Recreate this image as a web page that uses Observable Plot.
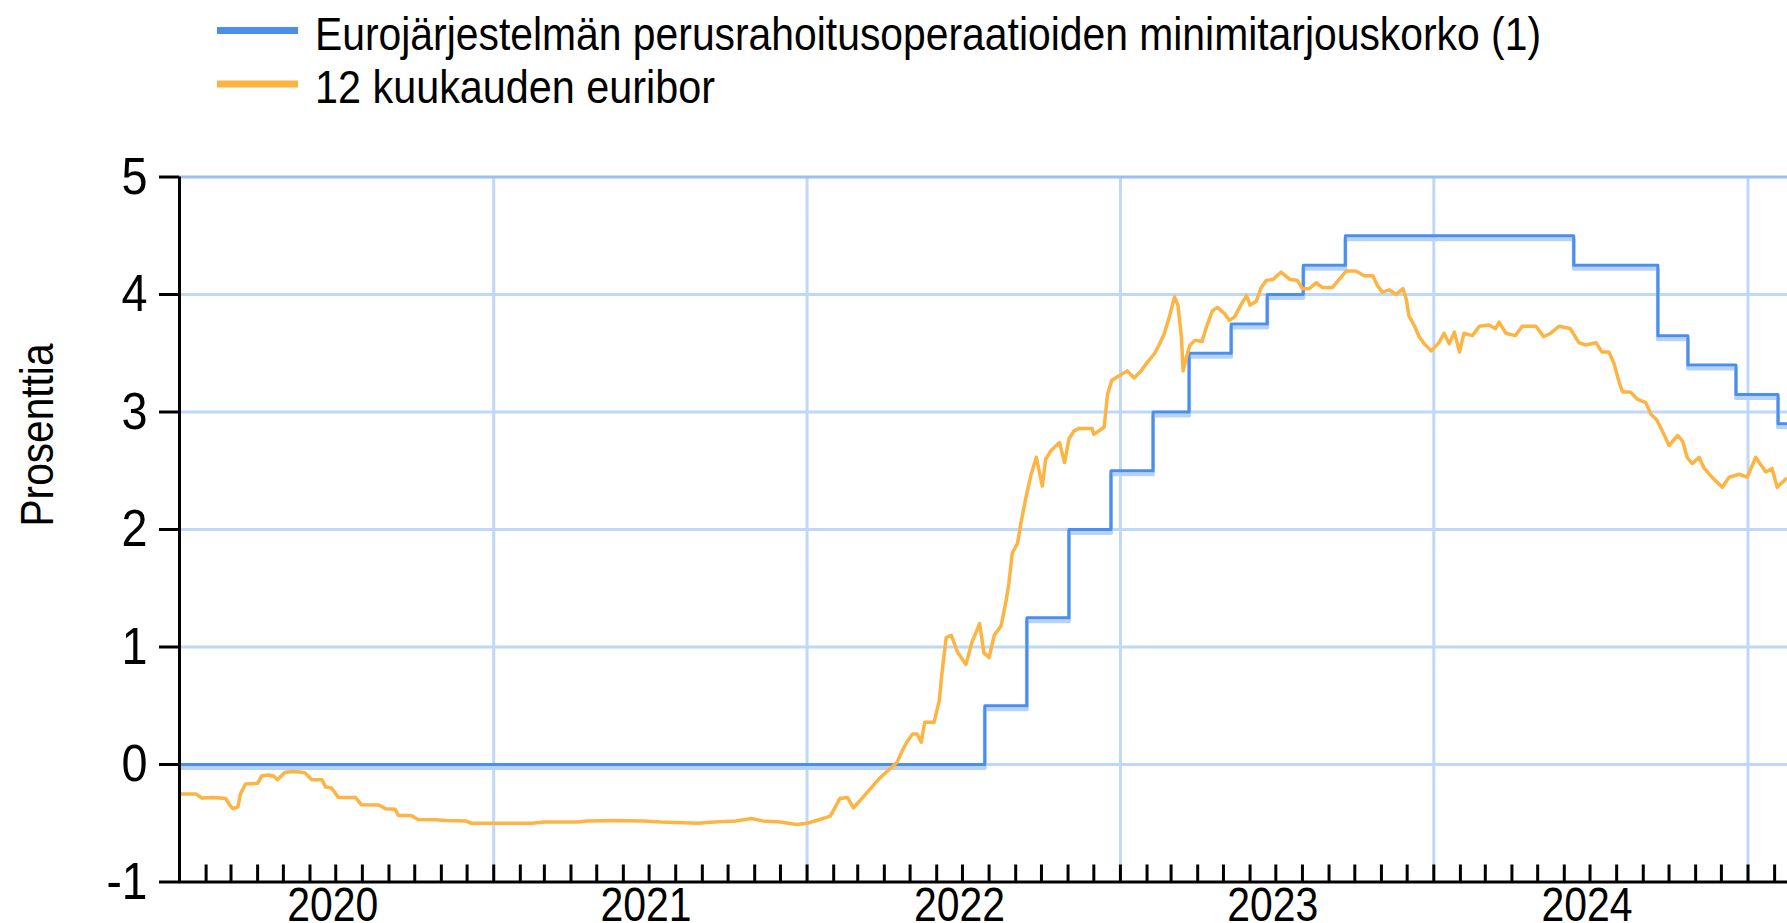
<!DOCTYPE html>
<html>
<head>
<meta charset="utf-8">
<script src="https://cdn.jsdelivr.net/npm/d3@7"></script>
<script src="https://cdn.jsdelivr.net/npm/@observablehq/plot@0.6"></script>
<style>
  body { margin: 0; background: #ffffff; }
  svg { display: block; }
</style>
</head>
<body>
<div id="legend"></div>
<div id="chart"></div>
<script>
// ---------- data ----------
const seriesNames = [
  "Eurojärjestelmän perusrahoitusoperaatioiden minimitarjouskorko (1)",
  "12 kuukauden euribor"
];
const yAxisLabel = "Prosenttia";
const yTicks = [-1, 0, 1, 2, 3, 4, 5];
const yearLabels = ["2020", "2021", "2022", "2023", "2024"];
const xDomain = ["2020-01-01", "2025-02-16"];

// ECB main refinancing operations rate (step series)
const mroDates = ["2020-01-01", "2022-07-27", "2022-09-14", "2022-11-02", "2022-12-21",
  "2023-02-08", "2023-03-22", "2023-05-10", "2023-06-21", "2023-08-02", "2023-09-20",
  "2024-06-12", "2024-09-18", "2024-10-23", "2024-12-18", "2025-02-05", "2025-02-16"];
const mroRates = [0.00, 0.50, 1.25, 2.00, 2.50, 3.00, 3.50, 3.75, 4.00, 4.25, 4.50,
  4.25, 3.65, 3.40, 3.15, 2.90, 2.90];

// 12-month Euribor
const euriborDates = [
  "2020-01-01","2020-01-20","2020-01-27","2020-02-10","2020-02-24","2020-02-28","2020-03-03","2020-03-09",
  "2020-03-12","2020-03-18","2020-04-01","2020-04-06","2020-04-14","2020-04-20","2020-04-24","2020-05-03",
  "2020-05-15","2020-05-26","2020-06-03","2020-06-15","2020-06-19","2020-06-26","2020-07-04","2020-07-24",
  "2020-07-31","2020-08-20","2020-08-28","2020-09-08","2020-09-12","2020-09-27","2020-10-05","2020-10-25",
  "2020-11-06","2020-11-29","2020-12-06","2020-12-29",
  "2021-01-15","2021-02-14","2021-03-01","2021-04-09","2021-04-20","2021-05-20","2021-06-25","2021-07-15",
  "2021-08-27","2021-09-15","2021-10-10","2021-10-28","2021-11-10","2021-12-01","2021-12-20",
  "2022-01-01","2022-01-15","2022-01-28","2022-02-03","2022-02-08","2022-02-17","2022-02-24","2022-03-07",
  "2022-03-14","2022-03-26","2022-04-07","2022-04-16","2022-04-22","2022-04-28","2022-05-04","2022-05-09",
  "2022-05-14","2022-05-18","2022-05-29","2022-06-04","2022-06-07","2022-06-12","2022-06-18","2022-06-25",
  "2022-07-05","2022-07-12","2022-07-21","2022-07-26","2022-08-01","2022-08-07","2022-08-15","2022-08-21",
  "2022-08-24","2022-08-28","2022-09-03","2022-09-07","2022-09-13","2022-09-19","2022-09-25","2022-10-02",
  "2022-10-06","2022-10-12","2022-10-22","2022-10-28","2022-11-02","2022-11-08","2022-11-14","2022-11-29",
  "2022-12-01","2022-12-13","2022-12-17","2022-12-22","2022-12-31",
  "2023-01-09","2023-01-17","2023-01-25","2023-02-01","2023-02-10","2023-02-15","2023-02-21","2023-02-27",
  "2023-03-05","2023-03-09","2023-03-13","2023-03-15","2023-03-19","2023-03-23","2023-03-29","2023-04-06",
  "2023-04-12","2023-04-18","2023-04-24","2023-05-02","2023-05-08","2023-05-14","2023-05-22","2023-05-28",
  "2023-06-01","2023-06-08","2023-06-14","2023-06-20","2023-06-28","2023-07-07","2023-07-17","2023-07-26",
  "2023-08-01","2023-08-09","2023-08-17","2023-08-24","2023-09-05","2023-09-13","2023-09-21","2023-10-02",
  "2023-10-12","2023-10-22","2023-10-27","2023-11-02","2023-11-10","2023-11-18","2023-11-26","2023-11-30",
  "2023-12-03","2023-12-09","2023-12-15","2023-12-21","2023-12-29",
  "2024-01-07","2024-01-13","2024-01-19","2024-01-25","2024-01-31","2024-02-05","2024-02-15","2024-02-23",
  "2024-03-05","2024-03-13","2024-03-17","2024-03-25","2024-04-05","2024-04-13","2024-04-29","2024-05-08",
  "2024-05-16","2024-05-26","2024-06-08","2024-06-18","2024-06-26","2024-07-08","2024-07-15","2024-07-23",
  "2024-07-29","2024-08-04","2024-08-08","2024-08-17","2024-08-25","2024-09-04","2024-09-10","2024-09-17",
  "2024-09-25","2024-10-01","2024-10-11","2024-10-17","2024-10-22","2024-10-28","2024-11-05","2024-11-11",
  "2024-11-20","2024-12-02","2024-12-10","2024-12-22","2024-12-31",
  "2025-01-10","2025-01-15","2025-01-22","2025-01-29","2025-02-04","2025-02-14"
];
const euriborValues = [
  -0.25,-0.25,-0.285,-0.28,-0.29,-0.34,-0.375,-0.36,
  -0.25,-0.165,-0.16,-0.095,-0.09,-0.10,-0.13,-0.065,
  -0.06,-0.07,-0.13,-0.13,-0.19,-0.20,-0.28,-0.28,
  -0.343,-0.345,-0.376,-0.38,-0.434,-0.435,-0.468,-0.47,
  -0.477,-0.48,-0.50,-0.50,
  -0.50,-0.50,-0.49,-0.49,-0.48,-0.477,-0.48,-0.49,
  -0.50,-0.49,-0.48,-0.46,-0.48,-0.49,-0.51,
  -0.50,-0.47,-0.44,-0.36,-0.29,-0.28,-0.37,-0.28,
  -0.22,-0.12,-0.04,0.02,0.12,0.20,0.26,0.26,
  0.19,0.36,0.36,0.545,0.77,1.08,1.10,0.96,
  0.85,1.04,1.20,0.95,0.91,1.10,1.18,1.40,
  1.54,1.80,1.88,2.05,2.275,2.47,2.615,2.37,
  2.60,2.67,2.74,2.57,2.77,2.84,2.86,2.86,
  2.81,2.87,3.15,3.27,3.31,
  3.35,3.29,3.35,3.42,3.50,3.57,3.665,3.81,
  3.98,3.91,3.64,3.35,3.47,3.57,3.61,3.60,
  3.74,3.86,3.89,3.84,3.78,3.81,3.92,3.99,
  3.91,3.94,4.06,4.12,4.13,4.19,4.13,4.12,
  4.05,4.05,4.10,4.06,4.06,4.13,4.20,4.20,
  4.16,4.16,4.08,4.02,4.04,4.00,4.05,3.96,
  3.82,3.74,3.64,3.58,3.52,
  3.59,3.67,3.58,3.68,3.51,3.67,3.65,3.73,
  3.74,3.71,3.765,3.67,3.65,3.73,3.73,3.64,
  3.67,3.73,3.71,3.59,3.57,3.59,3.51,3.51,
  3.41,3.25,3.17,3.17,3.11,3.08,2.98,2.93,
  2.81,2.715,2.80,2.75,2.615,2.56,2.615,2.52,
  2.445,2.36,2.445,2.47,2.445,
  2.615,2.56,2.49,2.52,2.36,2.43
];

// ---------- styles ----------
const blue = "#4a8fec";
const blueShadow = "#b6d2f8";
const orange = "#fdb443";
const gridColor = "#c0d8f8";
const topGridColor = "#9cc0f0";
const fontFamily = "'Liberation Sans', Arial, 'DejaVu Sans', sans-serif";

// ---------- build ----------
const parse = d3.utcParse("%Y-%m-%d");
const mro = mroDates.map((d, i) => ({date: parse(d), value: mroRates[i]}));
const eur = euriborDates.map((d, i) => ({date: parse(d), value: euriborValues[i]}));
const x0 = parse(xDomain[0]), x1 = parse(xDomain[1]);
const yearStarts = d3.utcYear.range(d3.utcYear.offset(x0, 1), x1);
const monthTicks = d3.utcMonth.range(d3.utcMonth.offset(x0, 1), x1);
const yearMids = yearLabels.map(y => new Date(Date.UTC(+y, 6, 1)));
const yMin = yTicks[0], yMax = yTicks[yTicks.length - 1];

// Legend (above the chart SVG)
const legendColors = [blue, orange];
const legendLineY = [30.5, 84];
const legendBaseline = [49.5, 103];
const legendTextLength = [1226, 400];
const leg = d3.create("svg")
  .attr("width", 1787).attr("height", 130)
  .style("font-family", fontFamily);
seriesNames.forEach((name, i) => {
  leg.append("line")
    .attr("x1", 217).attr("x2", 298)
    .attr("y1", legendLineY[i]).attr("y2", legendLineY[i])
    .attr("stroke", legendColors[i]).attr("stroke-width", 7);
  leg.append("text")
    .attr("x", 315).attr("y", legendBaseline[i])
    .attr("font-size", 47).attr("fill", "#000")
    .attr("textLength", legendTextLength[i])
    .attr("lengthAdjust", "spacingAndGlyphs")
    .text(name);
});
document.getElementById("legend").append(leg.node());

const chart = Plot.plot({
  width: 1787,
  height: 793,
  marginLeft: 179,
  marginRight: 0,
  marginTop: 46.5,
  marginBottom: 41.5,
  style: {fontFamily, background: "#ffffff", color: "#000", overflow: "visible"},
  x: {type: "utc", domain: [x0, x1]},
  y: {domain: [yMin, yMax]},
  marks: [
    Plot.ruleY(yTicks.slice(1, -1), {stroke: gridColor, strokeWidth: 3}),
    Plot.ruleX(yearStarts, {stroke: gridColor, strokeWidth: 3}),
    Plot.ruleY([yMax], {stroke: topGridColor, strokeWidth: 3}),
    Plot.line(mro, {x: "date", y: "value", curve: "step-after", stroke: blueShadow, strokeWidth: 4, dy: 3.5}),
    Plot.line(mro, {x: "date", y: "value", curve: "step-after", stroke: blue, strokeWidth: 3}),
    Plot.line(eur, {x: "date", y: "value", stroke: orange, strokeWidth: 3.5, strokeLinejoin: "round"}),
    Plot.ruleX(monthTicks, {y1: yMin, y2: yMin, insetBottom: 17, stroke: "#000", strokeWidth: 3}),
    Plot.ruleY([yMin], {stroke: "#000", strokeWidth: 3}),
    Plot.ruleX([x0], {stroke: "#000", strokeWidth: 3}),
    Plot.axisY({ticks: yTicks, tickSize: 20, tickPadding: 12, tickFormat: d => String(d),
      fontSize: 52, strokeWidth: 3, label: null}),
    Plot.axisX({ticks: yearMids, tickSize: 0, tickPadding: 5, tickFormat: d3.utcFormat("%Y"),
      fontSize: 48, label: null, dx: -3}),
    Plot.text([yAxisLabel], {frameAnchor: "left", dx: -141.5, dy: -3, rotate: -90, fontSize: 47, text: d => d, fill: "#000"})
  ]
});
document.getElementById("chart").append(chart);

// condensed look of the original font
chart.querySelectorAll('[aria-label="y-axis tick label"] text').forEach(t => {
  t.setAttribute("textLength", t.textContent.length > 1 ? 41 : 26);
  t.setAttribute("lengthAdjust", "spacingAndGlyphs");
});
chart.querySelectorAll('[aria-label="x-axis tick label"] text').forEach(t => {
  t.setAttribute("textLength", 91);
  t.setAttribute("lengthAdjust", "spacingAndGlyphs");
});
chart.querySelectorAll('[aria-label="text"] text').forEach(t => {
  t.setAttribute("textLength", 183);
  t.setAttribute("lengthAdjust", "spacingAndGlyphs");
});
</script>
</body>
</html>
